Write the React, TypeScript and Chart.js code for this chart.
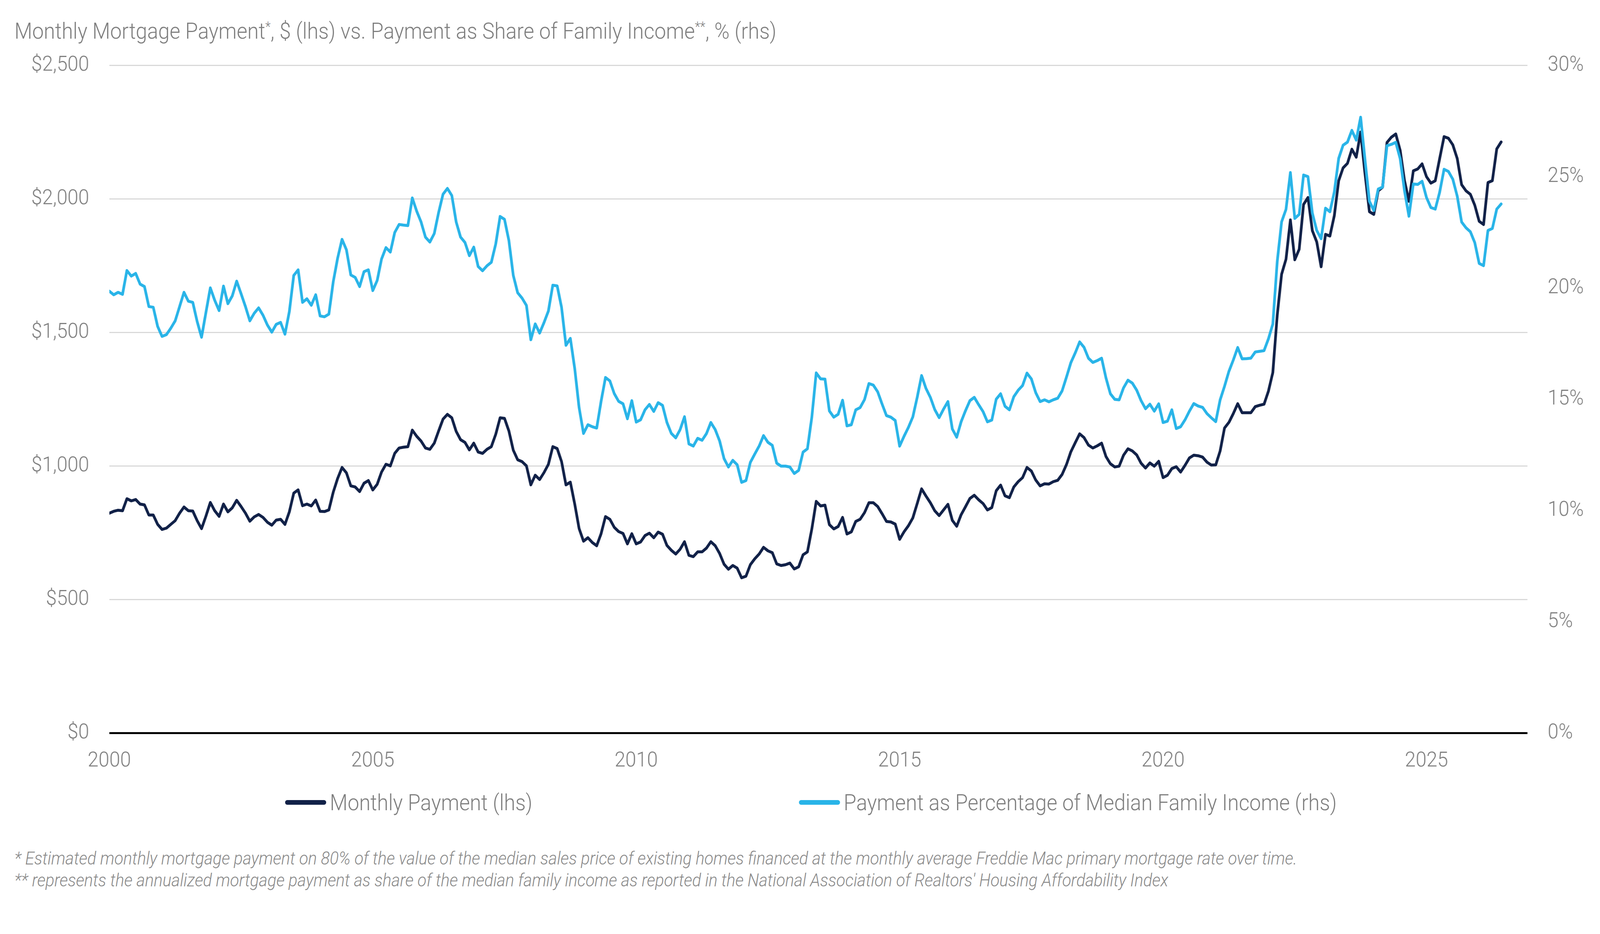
import { useEffect, useRef } from "react"
import { Chart, registerables } from "chart.js"

Chart.register(...registerables)

// monthly values, Jan 2000 onwards (one row per year)
const monthlyPayment = [
  823, 830, 834, 832, 877, 869, 874, 857, 854, 816, 816, 781, // 2000
  762, 767, 781, 795, 823, 846, 832, 831, 795, 765, 812, 863, // 2001
  832, 811, 857, 828, 843, 871, 848, 823, 793, 809, 818, 807, // 2002
  789, 778, 797, 800, 781, 828, 898, 910, 851, 857, 850, 872, // 2003
  830, 829, 835, 902, 953, 994, 974, 925, 921, 904, 935, 945, // 2004
  910, 931, 977, 1006, 1000, 1047, 1067, 1070, 1072, 1134, 1111, 1093, // 2005
  1067, 1062, 1085, 1131, 1175, 1193, 1180, 1129, 1098, 1088, 1060, 1085, // 2006
  1052, 1047, 1062, 1072, 1118, 1180, 1178, 1131, 1059, 1023, 1016, 1000, // 2007
  929, 965, 949, 975, 1006, 1072, 1065, 1016, 929, 939, 857, 765, // 2008
  718, 731, 713, 701, 746, 810, 800, 770, 754, 747, 708, 746, // 2009
  708, 715, 739, 748, 731, 752, 744, 702, 684, 670, 688, 716, // 2010
  665, 660, 678, 678, 692, 716, 701, 672, 632, 613, 627, 617, // 2011
  581, 587, 630, 652, 670, 695, 682, 675, 633, 627, 630, 636, // 2012
  614, 622, 667, 678, 764, 867, 850, 853, 780, 764, 773, 807, // 2013
  745, 753, 792, 800, 825, 862, 862, 848, 821, 792, 790, 782, // 2014
  725, 753, 776, 805, 859, 914, 887, 862, 832, 814, 835, 856, // 2015
  796, 774, 817, 847, 878, 890, 873, 859, 835, 844, 907, 928, // 2016
  888, 881, 921, 941, 956, 994, 981, 947, 925, 933, 932, 941, // 2017
  946, 968, 1005, 1053, 1087, 1120, 1106, 1078, 1067, 1075, 1085, 1035, // 2018
  1008, 996, 999, 1040, 1064, 1056, 1041, 1010, 992, 1011, 999, 1017, // 2019
  956, 965, 990, 997, 977, 1002, 1030, 1040, 1038, 1033, 1014, 1003, // 2020
  1004, 1056, 1142, 1163, 1196, 1233, 1199, 1199, 1199, 1222, 1227, 1231, // 2021
  1280, 1350, 1564, 1718, 1774, 1921, 1772, 1811, 1979, 2005, 1881, 1839, // 2022
  1746, 1867, 1861, 1937, 2068, 2116, 2133, 2186, 2156, 2250, 2093, 1952, // 2023
  1942, 2030, 2044, 2211, 2231, 2243, 2182, 2068, 1991, 2105, 2112, 2131, // 2024
  2083, 2059, 2068, 2151, 2233, 2227, 2202, 2151, 2053, 2030, 2017, 1976, // 2025
  1916, 1904, 2061, 2068, 2187, 2213, // 2026
]

const incomeShare = [
  19.85, 19.69, 19.8, 19.71, 20.78, 20.53, 20.65, 20.17, 20.06, 19.16, 19.13, 18.27, // 2000
  17.82, 17.9, 18.19, 18.52, 19.16, 19.8, 19.4, 19.35, 18.49, 17.78, 18.9, 20.0, // 2001
  19.44, 18.98, 20.08, 19.29, 19.64, 20.3, 19.74, 19.16, 18.52, 18.86, 19.1, 18.77, // 2002
  18.33, 18.01, 18.36, 18.45, 17.92, 18.94, 20.56, 20.81, 19.35, 19.51, 19.22, 19.69, // 2003
  18.74, 18.7, 18.82, 20.28, 21.34, 22.18, 21.71, 20.58, 20.47, 20.06, 20.73, 20.81, // 2004
  19.88, 20.33, 21.3, 21.81, 21.61, 22.49, 22.85, 22.82, 22.8, 24.04, 23.45, 22.96, // 2005
  22.28, 22.06, 22.44, 23.39, 24.21, 24.47, 24.15, 22.96, 22.28, 22.04, 21.45, 21.83, // 2006
  20.96, 20.77, 20.99, 21.15, 21.97, 23.21, 23.08, 22.13, 20.56, 19.78, 19.54, 19.21, // 2007
  17.67, 18.38, 17.97, 18.44, 18.96, 20.12, 20.09, 19.12, 17.42, 17.73, 16.37, 14.61, // 2008
  13.46, 13.85, 13.76, 13.7, 14.9, 15.97, 15.82, 15.25, 14.9, 14.79, 14.12, 14.93, // 2009
  13.97, 14.07, 14.52, 14.76, 14.45, 14.84, 14.72, 13.95, 13.46, 13.26, 13.63, 14.21, // 2010
  12.99, 12.89, 13.24, 13.15, 13.45, 13.95, 13.63, 13.12, 12.33, 11.95, 12.25, 12.05, // 2011
  11.26, 11.34, 12.16, 12.53, 12.89, 13.36, 13.06, 12.92, 12.12, 11.99, 11.99, 11.95, // 2012
  11.66, 11.8, 12.62, 12.77, 14.19, 16.18, 15.91, 15.9, 14.47, 14.19, 14.32, 14.95, // 2013
  13.8, 13.85, 14.52, 14.62, 14.98, 15.7, 15.63, 15.33, 14.78, 14.26, 14.19, 14.04, // 2014
  12.89, 13.33, 13.73, 14.2, 15.08, 16.06, 15.48, 15.08, 14.53, 14.17, 14.55, 14.89, // 2015
  13.66, 13.29, 13.98, 14.48, 14.93, 15.08, 14.75, 14.44, 13.98, 14.06, 15.0, 15.24, // 2016
  14.68, 14.52, 15.11, 15.4, 15.61, 16.17, 15.91, 15.29, 14.89, 14.97, 14.88, 14.97, // 2017
  15.04, 15.37, 15.99, 16.64, 17.08, 17.57, 17.33, 16.84, 16.65, 16.73, 16.84, 15.95, // 2018
  15.24, 14.99, 14.97, 15.51, 15.85, 15.72, 15.4, 14.93, 14.57, 14.77, 14.46, 14.79, // 2019
  13.95, 14.01, 14.52, 13.68, 13.76, 14.07, 14.46, 14.8, 14.69, 14.63, 14.35, 14.16, // 2020
  13.99, 14.97, 15.58, 16.25, 16.76, 17.32, 16.81, 16.82, 16.84, 17.12, 17.15, 17.18, // 2021
  17.71, 18.38, 21.18, 22.97, 23.53, 25.18, 23.12, 23.3, 25.07, 25.0, 23.36, 22.58, // 2022
  22.21, 23.58, 23.42, 24.31, 25.82, 26.41, 26.55, 27.08, 26.64, 27.67, 25.75, 23.89, // 2023
  23.48, 24.44, 24.53, 26.39, 26.45, 26.54, 25.81, 24.35, 23.22, 24.67, 24.65, 24.79, // 2024
  24.06, 23.61, 23.54, 24.3, 25.33, 25.23, 24.88, 24.12, 22.96, 22.7, 22.52, 22.03, // 2025
  21.1, 21.0, 22.58, 22.67, 23.54, 23.77, // 2026
]

const startYear = 2000
const lastMonth = 323 // axis runs to Dec 2026
const yearStep = 60 // a label every 5 years

const W = 4434
const H = 2392
const NAVY = "#112148"
const SKY = "#29b4e8"
const GREY = "#7f7f7f"
const FONT = "Roboto, 'Noto Sans', sans-serif"

export default function App() {
  const chartRef = useRef<HTMLCanvasElement>(null)
  const chartInstance = useRef<Chart | null>(null)

  // the page is laid out on a 4434x2392 board and scaled to whatever the viewport is
  const sx = window.innerWidth / W
  const sy = window.innerHeight / H

  useEffect(() => {
    if (!chartRef.current) return
    if (chartInstance.current) chartInstance.current.destroy()
    const ctx = chartRef.current.getContext("2d")
    if (!ctx) return

    const tickFont = { family: FONT, size: 54, weight: 300 as const }

    chartInstance.current = new Chart(ctx, {
      type: "line",
      data: {
        datasets: [
          {
            label: "Monthly Payment (lhs)",
            data: monthlyPayment.map((y, i) => ({ x: i, y })),
            yAxisID: "y",
            borderColor: NAVY,
            borderWidth: 7.5,
            pointRadius: 0,
            tension: 0,
            borderJoinStyle: "round",
            borderCapStyle: "round",
            order: 1,
          },
          {
            label: "Payment as Percentage of Median Family Income (rhs)",
            data: incomeShare.map((y, i) => ({ x: i, y })),
            yAxisID: "y1",
            borderColor: SKY,
            borderWidth: 7.5,
            pointRadius: 0,
            tension: 0,
            borderJoinStyle: "round",
            borderCapStyle: "round",
            order: 0,
          },
        ],
      },
      options: {
        animation: false,
        responsive: true,
        maintainAspectRatio: false,
        devicePixelRatio: (window.devicePixelRatio || 1) * Math.max(sx, sy),
        layout: { padding: 0 },
        plugins: {
          legend: { display: false },
          tooltip: { enabled: false },
        },
        scales: {
          x: {
            type: "linear",
            min: 0,
            max: lastMonth,
            grid: { display: false },
            border: { display: false },
            afterFit: (s) => {
              s.height = 150
            },
            ticks: {
              stepSize: yearStep,
              autoSkip: false,
              includeBounds: false,
              maxRotation: 0,
              padding: 32,
              color: GREY,
              font: tickFont,
              callback: (v) => (Number(v) % yearStep === 0 ? String(startYear + Number(v) / 12) : ""),
            },
          },
          y: {
            position: "left",
            min: 0,
            max: 2500,
            border: { display: false },
            grid: {
              drawTicks: false,
              color: (c) => (c.tick && c.tick.value === 0 ? "#000000" : "#d9d9d9"),
              lineWidth: (c) => (c.tick && c.tick.value === 0 ? 5 : 3),
            },
            afterFit: (s) => {
              s.width = 303
            },
            ticks: {
              stepSize: 500,
              padding: 56,
              color: GREY,
              font: tickFont,
              callback: (v) => "$" + Number(v).toLocaleString("en-US"),
            },
          },
          y1: {
            position: "right",
            min: 0,
            max: 30,
            border: { display: false },
            grid: { drawOnChartArea: false, drawTicks: false },
            afterFit: (s) => {
              s.width = 201
            },
            ticks: {
              stepSize: 5,
              padding: 56,
              color: GREY,
              font: tickFont,
              callback: (v) => v + "%",
            },
          },
        },
      },
    })

    return () => {
      if (chartInstance.current) {
        chartInstance.current.destroy()
        chartInstance.current = null
      }
    }
  }, [])

  const sup = { fontSize: "0.6em", verticalAlign: "0.55em", lineHeight: 0 }
  const legendItem = {
    position: "absolute" as const,
    top: 2023,
    height: 64,
    display: "flex",
    alignItems: "center",
    fontSize: 57,
    whiteSpace: "nowrap" as const,
  }
  const swatch = { display: "inline-block", width: 114, height: 12, borderRadius: 6, marginRight: 10 }

  return (
    <div style={{ position: "fixed", left: 0, top: 0, right: 0, bottom: 0, overflow: "hidden", background: "#ffffff" }}>
      <div
        style={{
          position: "absolute",
          left: 0,
          top: 0,
          width: W,
          height: H,
          transform: `scale(${sx}, ${sy})`,
          transformOrigin: "0 0",
          background: "#ffffff",
          fontFamily: FONT,
          fontWeight: 300,
          color: GREY,
        }}
      >
        <div style={{ position: "absolute", left: 40, top: 48, fontSize: 57, lineHeight: "64px", whiteSpace: "nowrap" }}>
          Monthly Mortgage Payment<span style={sup}>*</span>, $ (lhs) vs. Payment as Share of Family Income
          <span style={sup}>**</span>, % (rhs)
        </div>

        <div style={{ position: "absolute", left: 0, top: 79, width: W, height: 1948 }}>
          <canvas ref={chartRef}></canvas>
        </div>

        <div style={{ ...legendItem, left: 790 }}>
          <span style={{ ...swatch, background: NAVY }}></span>
          Monthly Payment (lhs)
        </div>
        <div style={{ ...legendItem, left: 2214 }}>
          <span style={{ ...swatch, background: SKY }}></span>
          Payment as Percentage of Median Family Income (rhs)
        </div>

        <div style={{ position: "absolute", left: 40, top: 2171, fontSize: 45.7, lineHeight: "56px", fontStyle: "italic", color: "#8a8a8a", whiteSpace: "nowrap" }}>
          <div>
            * Estimated monthly mortgage payment on 80% of the value of the median sales price of existing homes financed at the monthly average Freddie Mac primary mortgage rate over time.
          </div>
          <div>
            ** represents the annualized mortgage payment as share of the median family income as reported in the National Association of Realtors' Housing Affordability Index
          </div>
        </div>
      </div>
    </div>
  )
}
